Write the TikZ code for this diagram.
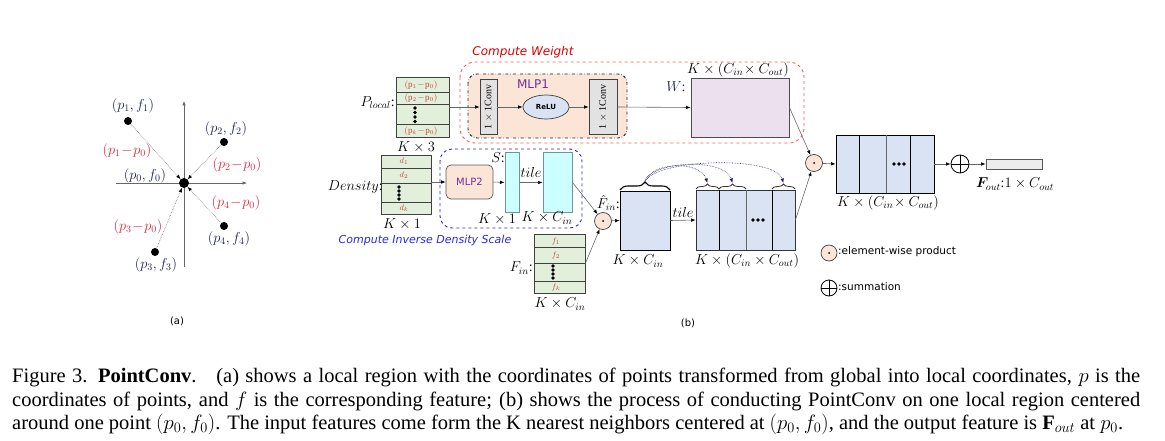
\documentclass[tikz,border=0pt]{standalone}
\usepackage{fontspec}
\setmainfont{Liberation Serif}
\newfontfamily\dvsans{DejaVu Sans}
\usepackage{bm}
\usetikzlibrary{arrows.meta,shapes.geometric,decorations.pathreplacing}

\definecolor{wgtred}{RGB}{255,90,90}
\definecolor{dnsblue}{RGB}{40,40,235}
\definecolor{cellgreen}{RGB}{226,239,218}
\definecolor{mlporange}{RGB}{251,229,214}
\definecolor{wlilac}{RGB}{236,224,238}
\definecolor{scyan}{RGB}{204,255,255}
\definecolor{barteal}{RGB}{110,150,150}
\definecolor{featblue}{RGB}{218,227,243}
\definecolor{convgray}{RGB}{226,226,226}
\definecolor{outgray}{RGB}{237,237,237}
\definecolor{mlppurple}{RGB}{112,48,160}
\definecolor{ptred}{RGB}{220,40,60}
\definecolor{ptnavy}{RGB}{25,35,80}
\definecolor{cellred}{RGB}{200,70,60}
\definecolor{hopnavy}{RGB}{30,30,110}

\begin{document}
\begin{tikzpicture}[x=1pt, y=-1pt,
    >={Latex[length=4.5pt,width=3.5pt]},
    flow/.style={-{Latex[length=4.5pt,width=3.5pt,color=black]}, draw=black!60, line width=0.6pt},
    nbr/.style={-{Latex[length=4.5pt,width=3.5pt,color=black]}, draw=black!55, densely dotted, line width=0.6pt},
    hop/.style={->, draw=hopnavy, densely dotted, line width=0.6pt},
    lab/.style={font=\fontsize{14}{16}\selectfont, inner sep=0pt},
    ptlab/.style={lab, text=ptnavy},
    dlab/.style={lab, text=ptred},
    pt/.style={circle, fill=black, inner sep=0pt, minimum size=8pt},
    tablebox/.style={draw=black!75, fill=cellgreen, line width=0.7pt, inner sep=0pt},
    rowline/.style={draw=black!75, line width=0.7pt},
    celltext/.style={font=\fontsize{9}{10}\selectfont, text=cellred, inner sep=0pt},
    convbox/.style={draw=black!75, fill=convgray, line width=0.7pt, inner sep=0pt, minimum height=55pt},
    featbox/.style={draw=black, fill=featblue, line width=0.8pt, inner sep=0pt},
    barbox/.style={draw=barteal, fill=scyan, line width=1pt, inner sep=0pt, minimum height=59pt},
    opcircle/.style={circle, draw=black!75, fill=mlporange, line width=0.7pt, minimum size=17pt, inner sep=0pt},
    sumcircle/.style={circle, draw=black, line width=0.8pt, minimum size=18pt, inner sep=0pt},
    legtext/.style={font=\dvsans\fontsize{10.5}{12}\selectfont, anchor=west, inner sep=0pt},
    brace/.style={decorate, decoration={brace, amplitude=#1}}
  ]
  \useasboundingbox (0,0) rectangle (1165,441);

  % (a) local region
  \draw[->, draw=black!60, line width=0.6pt] (116,183) -- (247,183);
  \draw[->, draw=black!60, line width=0.6pt] (184,267) -- (184,101);
  \node[pt, minimum size=10pt] (p0) at (184,183) {};
  \node[pt] (p1) at (128,121) {};
  \node[pt] (p2) at (224,142) {};
  \node[pt] (p3) at (155,252) {};
  \node[pt] (p4) at (224,226) {};
  \draw[nbr] (p1) -- (p0);
  \draw[nbr] (p2) -- (p0);
  \draw[nbr] (p3) -- (p0);
  \draw[nbr] (p4) -- (p0);
  \node[ptlab] at (133,106) {$(p_1,f_1)$};
  \node[ptlab] at (226,129) {$(p_2,f_2)$};
  \node[ptlab] at (156,265) {$(p_3,f_3)$};
  \node[ptlab] at (229,239) {$(p_4,f_4)$};
  \node[ptlab] at (145,176) {$(p_0,f_0)$};
  \node[dlab] at (127,151) {$(p_1\!-\!p_0)$};
  \node[dlab] at (237,165) {$(p_2\!-\!p_0)$};
  \node[dlab] at (236,203) {$(p_4\!-\!p_0)$};
  \node[dlab] at (138,227) {$(p_3\!-\!p_0)$};
  \node[font=\dvsans\fontsize{10}{12}\selectfont] at (177,321) {(a)};

  % (b) compute weight
  \draw[wgtred, dashed, line width=0.9pt, rounded corners=15pt] (460,62) rectangle (804,143);
  \node[font=\dvsans\itshape\fontsize{12}{14}\selectfont, text=red!85!black, inner sep=0pt] at (523,52) {Compute Weight};
  \draw[black!85, dash dot, line width=0.9pt, fill=mlporange, rounded corners=9pt] (468,74) rectangle (627,138);
  \node[font=\dvsans\fontsize{12}{14}\selectfont, text=mlppurple, inner sep=0pt] at (533,84) {MLP1};

  \node[tablebox, minimum width=53pt, minimum height=60pt] (plocal) at (422.5,107) {};
  \draw[rowline] (396,92) -- (449,92);
  \draw[rowline] (396,104) -- (449,104);
  \draw[rowline] (396,124) -- (449,124);
  \node[celltext] at (421,85) {$(\mathrm{p}_1\!-\!\mathrm{p}_0)$};
  \node[celltext] at (421,98) {$(\mathrm{p}_2\!-\!\mathrm{p}_0)$};
  \node[celltext] at (421,131) {$(\mathrm{p}_k\!-\!\mathrm{p}_0)$};
  \foreach \y in {108,112.5,117,121.5}
    \fill (415,\y) circle (1.9pt);
  \node[lab, anchor=east] at (395,103) {$P_{local}$:};
  \node[lab] at (416,147) {$K\times 3$};

  \node[convbox, minimum width=17pt] (conv1) at (488.5,107) {};
  \node[rotate=90, font=\fontsize{10}{12}\selectfont] at (conv1) {1 $\times$ 1Conv};
  \node[ellipse, draw=black!75, fill=featblue, line width=0.7pt, minimum width=46pt, minimum height=24pt, inner sep=0pt, font=\dvsans\bfseries\fontsize{7}{8}\selectfont] (relu) at (546,107) {ReLU};
  \node[convbox, minimum width=28pt] (conv2) at (603,107) {};
  \node[rotate=90, font=\fontsize{10}{12}\selectfont] at (conv2) {1 $\times$ 1Conv};
  \node[draw=black!70, fill=wlilac, line width=0.8pt, minimum width=98pt, minimum height=59pt, inner sep=0pt] (wbox) at (740,107.5) {};
  \node[lab, text=ptnavy] at (676,87) {$W$:};
  \node[lab] at (738,70) {$K\times(C_{in}\!\times C_{out})$};
  \draw[flow] (plocal.east) -- (conv1.west);
  \draw[flow] (conv1.east) -- (relu.west);
  \draw[flow] (relu.east) -- (conv2.west);
  \draw[flow] (conv2.east) -- (wbox.west);

  % (b) inverse density scale
  \draw[dnsblue, dashed, line width=0.9pt, rounded corners=12pt] (440,149) rectangle (582,228);
  \node[font=\dvsans\itshape\fontsize{11}{13}\selectfont, text=dnsblue, inner sep=0pt] at (425,240) {Compute Inverse Density Scale};
  \node[tablebox, minimum width=50pt, minimum height=59pt] (density) at (406,184.5) {};
  \draw[rowline] (381,168) -- (431,168);
  \draw[rowline] (381,183) -- (431,183);
  \draw[rowline] (381,202) -- (431,202);
  \node[celltext, font=\fontsize{8}{9}\selectfont] at (404,161.5) {$d_1$};
  \node[celltext, font=\fontsize{8}{9}\selectfont] at (404,175.5) {$d_2$};
  \node[celltext, font=\fontsize{8}{9}\selectfont] at (404,208) {$d_k$};
  \foreach \y in {187,191,195,199}
    \fill (399,\y) circle (1.8pt);
  \node[lab, anchor=east] at (383,187) {$Density$:};
  \node[lab] at (402,224) {$K\times 1$};

  \node[draw=black!65, fill=mlporange, line width=0.7pt, rounded corners=5pt, minimum width=47pt, minimum height=34pt, inner sep=0pt, font=\dvsans\fontsize{10}{12}\selectfont, text=mlppurple] (mlptwo) at (469.5,182) {MLP2};
  \node[barbox, minimum width=14pt] (sbar) at (512,182.5) {};
  \node[lab] at (498,158) {$S$:};
  \node[lab] at (497,219) {$K\times 1$};
  \node[barbox, minimum width=29pt] (tbar) at (557.5,182.5) {};
  \node[lab] at (531,173) {$tile$};
  \node[lab] at (547,218) {$K\times C_{in}$};
  \draw[flow] (density.east |- mlptwo.west) -- (mlptwo.west);
  \draw[flow] (mlptwo.east) -- (sbar.west);
  \draw[flow] (sbar.east) -- (tbar.west);

  % (b) features
  \node[tablebox, minimum width=51pt, minimum height=59pt] (fin) at (559.5,263.5) {};
  \draw[rowline] (534,247) -- (585,247);
  \draw[rowline] (534,263) -- (585,263);
  \draw[rowline] (534,281) -- (585,281);
  \node[celltext, font=\fontsize{8}{9}\selectfont] at (556,241) {$f_1$};
  \node[celltext, font=\fontsize{8}{9}\selectfont] at (556,255) {$f_2$};
  \node[celltext, font=\fontsize{8}{9}\selectfont] at (556,287) {$f_k$};
  \foreach \y in {266,270,274,278}
    \fill (553,\y) circle (1.8pt);
  \node[lab, anchor=east] at (533,268) {$F_{in}$:};
  \node[lab] at (560,304) {$K\times C_{in}$};

  \node[opcircle] (prod1) at (603,221) {};
  \fill (prod1) circle (1pt);
  \draw[flow] (tbar.east) -- (prod1);
  \draw[flow] (fin.east) -- (prod1);

  \node[featbox, minimum width=50pt, minimum height=59pt] (fbox) at (645,220.5) {};
  \node[lab] at (638,261) {$K\times C_{in}$};
  \node[lab, anchor=east] at (620,203) {$\hat{F}_{in}$:};
  \draw[flow] (prod1) -- (fbox.west);
  \draw[brace=8pt, line width=1.1pt] (620,190) -- (670,190);
  \coordinate (ftip) at (645,181);

  \node[featbox, draw=black!80, minimum width=99pt, minimum height=60pt] (tiled) at (745.5,220) {};
  \draw[black, line width=0.8pt] (719,190) -- (719,250);
  \draw[black!60, line width=0.8pt] (746,190) -- (746,250);
  \draw[black, line width=0.8pt] (772,190) -- (772,250);
  \foreach \x in {753,758,763}
    \fill (\x,220) circle (1.8pt);
  \node[lab] at (747,261) {$K\times(C_{in}\times C_{out})$};
  \node[lab] at (683,212) {$tile$};
  \draw[flow] (fbox.east) -- (tiled.west);
  \draw[brace=5pt, black!80, line width=0.8pt] (696,189) -- (719,189);
  \draw[brace=5pt, black!80, line width=0.8pt] (719,189) -- (746,189);
  \draw[brace=5pt, black!80, line width=0.8pt] (772,189) -- (795,189);
  \coordinate (ttip1) at (707.5,183);
  \coordinate (ttip2) at (732.5,183);
  \coordinate (ttip3) at (783.5,183);
  \draw[hop] (ftip) .. controls (652,162) and (700,160) .. (ttip1);
  \draw[hop] (ftip) .. controls (655,160) and (725,158) .. (ttip2);
  \draw[hop] (ftip) .. controls (660,158) and (775,156) .. (ttip3);

  % (b) output
  \node[opcircle] (prod2) at (814,163) {};
  \fill (prod2) circle (1pt);
  \draw[flow] (wbox.east) -- (prod2);
  \draw[flow] (tiled.east) -- (prod2);
  \node[featbox, minimum width=98pt, minimum height=58pt] (fout) at (885,164) {};
  \draw[black, line width=0.8pt] (859,135) -- (859,193);
  \draw[black!60, line width=0.8pt] (886,135) -- (886,193);
  \draw[black, line width=0.8pt] (910,135) -- (910,193);
  \foreach \x in {894,899,904}
    \fill (\x,164) circle (1.8pt);
  \node[lab] at (888,203) {$K\times(C_{in}\!\times C_{out})$};
  \draw[flow] (prod2) -- (fout.west);
  \node[sumcircle] (plus) at (960,164) {};
  \draw[line width=0.8pt] (plus.north) -- (plus.south);
  \draw[line width=0.8pt] (plus.west) -- (plus.east);
  \draw[flow] (fout.east) -- (plus);
  \node[draw=black!65, fill=outgray, line width=0.8pt, minimum width=56pt, minimum height=10pt, inner sep=0pt] (outbar) at (1014,164) {};
  \draw[flow] (plus) -- (outbar.west);
  \node[lab] at (1015,184) {$\bm{F}_{out}$:$1\times C_{out}$};

  % legend
  \node[opcircle, minimum size=16pt] (legprod) at (829,253) {};
  \fill (legprod) circle (1pt);
  \node[legtext] at (838,252) {:element-wise product};
  \node[sumcircle, minimum size=16pt] (legsum) at (829,288) {};
  \draw[line width=0.8pt] (legsum.north) -- (legsum.south);
  \draw[line width=0.8pt] (legsum.west) -- (legsum.east);
  \node[legtext] at (838,287) {:summation};
  \node[font=\dvsans\fontsize{10}{12}\selectfont] at (688,323) {(b)};

  % caption
  \node[anchor=north west, inner sep=0pt, text width=1128pt, align=justify, font=\fontsize{20.5}{23.5}\selectfont] (caption) at (12,368) {\parfillskip=0pt
    Figure 3. \textbf{PointConv}.\hspace{0.45em} (a) shows a local region with the coordinates of points transformed from global into local coordinates, $p$ is the\linebreak
    coordinates of points, and $f$ is the corresponding feature; (b) shows the process of conducting PointConv on one local region centered\linebreak
    around one point $(p_0, f_0)$. The input features come form the K nearest neighbors centered at $(p_0, f_0)$, and the output feature is $\mathbf{F}_{out}$ at $p_0$.};
\end{tikzpicture}
\end{document}
